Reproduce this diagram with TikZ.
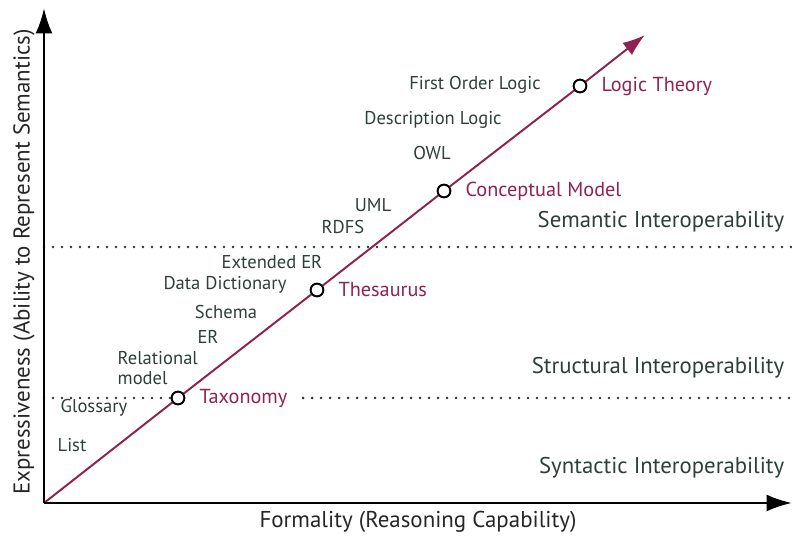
\documentclass[tikz,border=0pt]{standalone}
\usepackage{fontspec}
\setmainfont{PT Sans}
\usetikzlibrary{arrows.meta,positioning}
\definecolor{vinho}{HTML}{8E2352}
\definecolor{verdeescuro}{HTML}{2E3F37}
\tikzset{
    eixo/.style={-{Latex[length=18pt,width=12pt]}, line width=1.8pt, black},
    diagonal/.style={-{Latex[length=16pt,width=11pt]}, line width=1.4pt, vinho},
    pontilhado/.style={line width=2pt, line cap=round, dash pattern=on 0pt off 6.4pt, black!80},
    ponto/.style={circle, draw=black, fill=white, line width=1.3pt, minimum size=9pt, inner sep=0pt},
    nivel/.style={font=\fontsize{14.4}{16}\selectfont, text=vinho, inner sep=1pt},
    exemplo/.style={font=\fontsize{13.2}{14}\selectfont, text=verdeescuro, inner sep=1pt},
    camada/.style={font=\fontsize{16.2}{18}\selectfont, text=verdeescuro, anchor=east, inner sep=1pt},
    titulo/.style={font=\fontsize{16.3}{18}\selectfont, text=black!85, inner sep=1pt}
}
\begin{document}
\begin{tikzpicture}[x=0.025cm, y=-0.025cm]
    \useasboundingbox (0,0) rectangle (792,537);

    % Origem e pontas dos eixos
    \coordinate (O) at (44,503);
    \coordinate (topoY) at (44,8);
    \coordinate (fimX) at (792,503);
    \coordinate (fimD) at (645,35);

    % Linhas pontilhadas (niveis de interoperabilidade)
    \coordinate (semE) at (44,247);
    \coordinate (semD) at (792,247);
    \coordinate (estE) at (44,398);
    \coordinate (estD) at (792,398);

    % Niveis ao longo da diagonal
    \node[ponto] (taxo) at (178,398) {};
    \node[ponto] (thes) at (317,290) {};
    \node[ponto] (conc) at (444,191) {};
    \node[ponto] (logi) at (580,86) {};
    \node[nivel, right=9pt of taxo] (taxoTxt) {Taxonomy};
    \node[nivel, right=9pt of thes] (thesTxt) {Thesaurus};
    \node[nivel, right=9pt of conc] (concTxt) {Conceptual Model};
    \node[nivel, right=9pt of logi] (logiTxt) {Logic Theory};

    \draw[pontilhado] (semE) -- (semD);
    \draw[pontilhado] (estE) -- (taxo.west);
    \draw[pontilhado] ([xshift=10pt]taxoTxt.east) -- (estD);

    % Diagonal
    \draw[diagonal] (O) -- (taxo) -- (thes) -- (conc) -- (logi) -- (fimD);
    \node[ponto] at (taxo) {};
    \node[ponto] at (thes) {};
    \node[ponto] at (conc) {};
    \node[ponto] at (logi) {};

    % Exemplos
    \node[exemplo] (fol) at (475,85) {First Order Logic};
    \node[exemplo] (dl) at (433,120) {Description Logic};
    \node[exemplo] (owl) at (432,153) {OWL};
    \node[exemplo] (uml) at (373,205) {UML};
    \node[exemplo] (rdfs) at (343,227) {RDFS};
    \node[exemplo] (eer) at (272,262) {Extended ER};
    \node[exemplo] (dd) at (225,285) {Data Dictionary};
    \node[exemplo] (sch) at (226,312) {Schema};
    \node[exemplo] (er) at (208,337) {ER};
    \node[exemplo, anchor=west, align=left] (rel) at (116,368) {Relational\\model};
    \node[exemplo] (glo) at (94,408) {Glossary};
    \node[exemplo] (lst) at (72,445) {List};

    % Camadas
    \node[camada] (sem) at (786,222) {Semantic Interoperability};
    \node[camada] (est) at (786,368) {Structural Interoperability};
    \node[camada] (sin) at (786,468) {Syntactic Interoperability};

    % Eixos
    \draw[eixo] (O) -- (topoY);
    \draw[eixo] (O) -- (fimX);
    \node[titulo] (tx) at (418,522) {Formality (Reasoning Capability)};
    \node[titulo, rotate=90] (ty) at (24,262) {Expressiveness (Ability to Represent Semantics)};
\end{tikzpicture}
\end{document}
